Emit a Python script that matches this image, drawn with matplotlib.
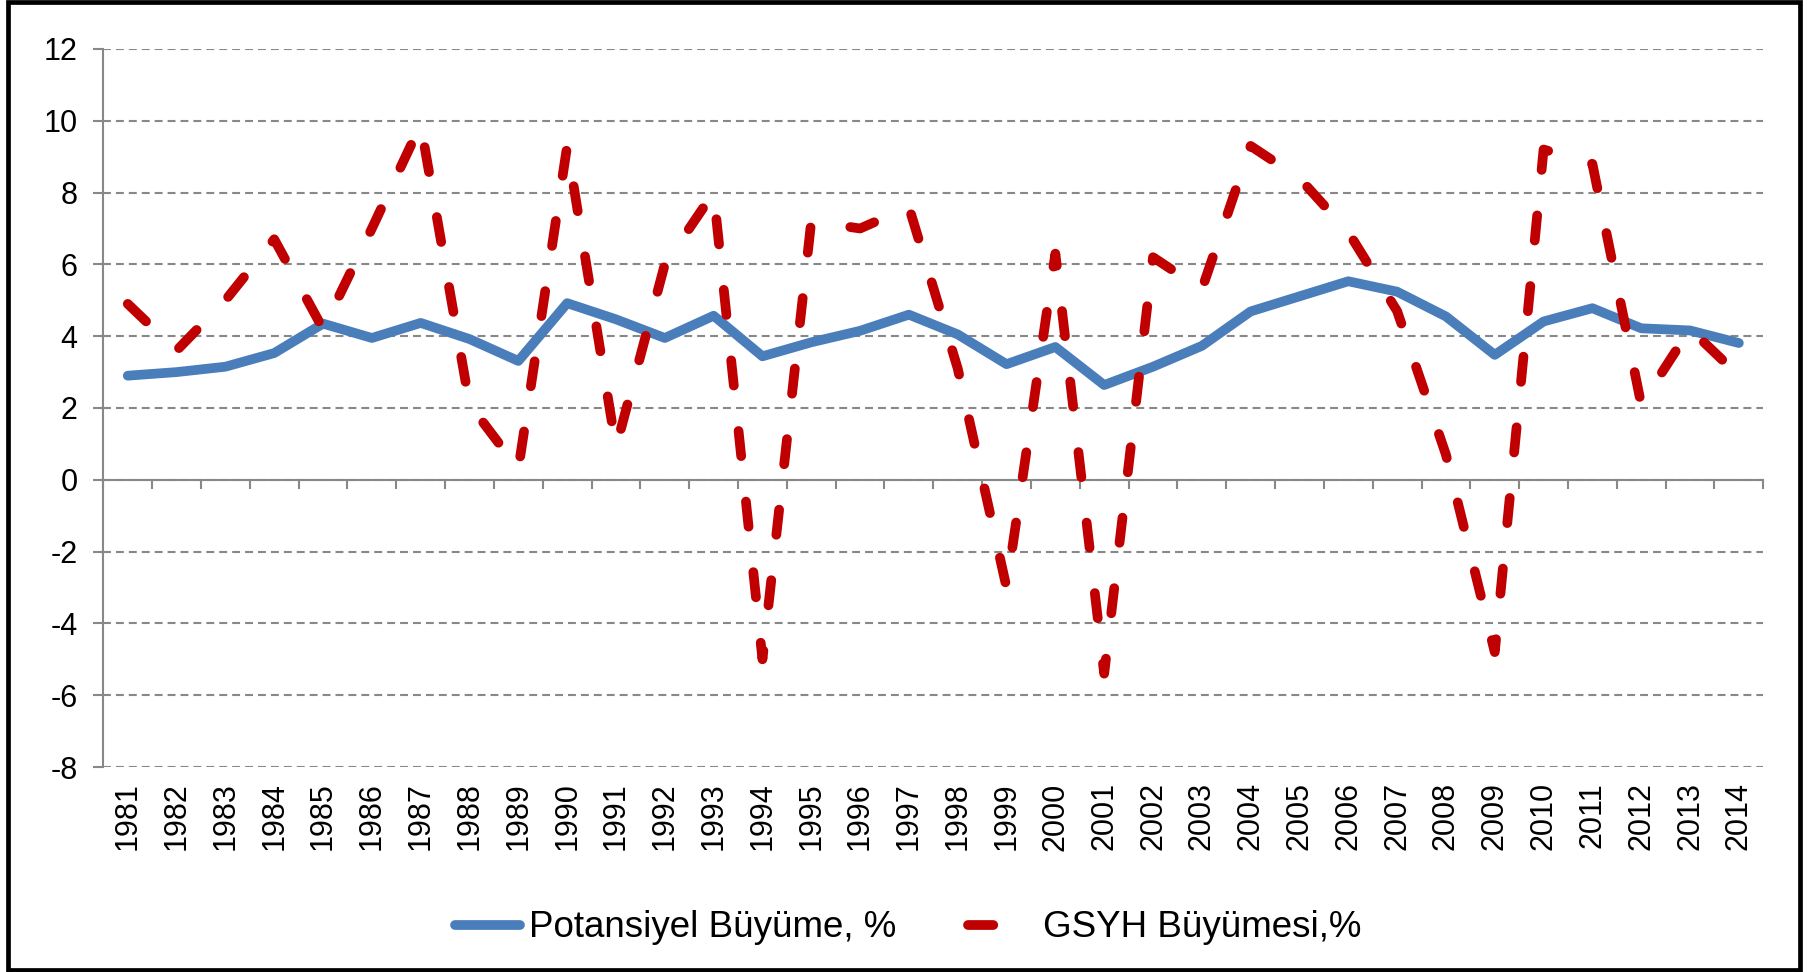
import numpy as np
import matplotlib
matplotlib.use('Agg')
import matplotlib.pyplot as plt
from matplotlib.lines import Line2D
from matplotlib.patches import Rectangle

# data
years = ['1981', '1982', '1983', '1984', '1985', '1986', '1987', '1988', '1989', '1990',
         '1991', '1992', '1993', '1994', '1995', '1996', '1997', '1998', '1999', '2000',
         '2001', '2002', '2003', '2004', '2005', '2006', '2007', '2008', '2009', '2010',
         '2011', '2012', '2013', '2014']
potansiyel = [2.9, 3.0, 3.15, 3.53, 4.35, 3.95, 4.37, 3.92, 3.31, 4.92,
              4.47, 3.95, 4.57, 3.44, 3.83, 4.15, 4.6, 4.05, 3.22, 3.7,
              2.64, 3.15, 3.73, 4.69, 5.11, 5.53, 5.24, 4.55, 3.48, 4.41,
              4.78, 4.22, 4.16, 3.81]
gsyh = [4.9, 3.6, 5.0, 6.7, 4.2, 7.0, 9.9, 2.1, 0.3, 9.3,
        0.9, 6.0, 8.0, -5.0, 7.2, 7.0, 7.6, 3.1, -3.0, 6.3,
        -5.4, 6.2, 5.3, 9.3, 8.4, 6.9, 4.7, 0.7, -4.8, 9.2,
        8.8, 2.1, 4.2, 2.9]
yticks = [-8, -6, -4, -2, 0, 2, 4, 6, 8, 10, 12]
labels = ['Potansiyel Büyüme, %', 'GSYH Büyümesi,%']

plt.rcParams['font.family'] = ['Liberation Sans', 'DejaVu Sans']

blue = '#4A7EBB'
red = '#C00000'
gray = '#888888'

fig = plt.figure(figsize=(18.07, 9.72), dpi=100)
ax = fig.add_axes([0.0572, 0.2109, 0.9186, 0.7387])

x = np.arange(len(years))
ax.plot(x, potansiyel, color=blue, lw=7, solid_capstyle='round',
        solid_joinstyle='round', zorder=3)
ax.plot(x, gsyh, color=red, lw=7, linestyle=(0, (2.6, 4.7)),
        dash_capstyle='round', dash_joinstyle='round', zorder=4)

ax.set_xlim(-0.5, len(years) - 0.5)
ax.set_ylim(-8, 12)
ax.set_yticks(yticks)
ax.set_yticklabels([str(v) for v in yticks], fontsize=22)
ax.yaxis.grid(True, color=gray, linestyle=(0, (3.8, 2.4)), lw=1.5)
ax.set_axisbelow(True)
ax.tick_params(axis='y', length=7.2, width=1.5, color=gray, pad=11.5)

# axis line at zero with ticks between categories
ax.spines['bottom'].set_position(('data', 0))
ax.spines['bottom'].set_color(gray)
ax.spines['bottom'].set_linewidth(1.5)
ax.spines['left'].set_color(gray)
ax.spines['left'].set_linewidth(1.5)
ax.spines['top'].set_visible(False)
ax.spines['right'].set_visible(False)
ax.set_xticks(np.arange(-0.5, len(years), 1))
ax.tick_params(axis='x', length=6.5, width=1.5, color=gray, labelbottom=False)

# year labels at the bottom of the plot area
sec = ax.secondary_xaxis('bottom')
sec.set_xticks(x)
sec.set_xticklabels(years, rotation=90, fontsize=22)
sec.tick_params(length=0, pad=11)
sec.spines['bottom'].set_visible(False)

h1 = Line2D([], [], color=blue, lw=7, solid_capstyle='round')
h2 = Line2D([], [], color=red, lw=7, linestyle=(0, (2.6, 12)), dash_capstyle='round')
fig.legend([h1, h2], labels, loc='center', bbox_to_anchor=(0.5025, 0.0453),
           ncol=2, frameon=False, fontsize=26.5, handlelength=1.78,
           handletextpad=0.25, columnspacing=1.95)

# outer black frame
fig.add_artist(Rectangle((7.5 / 1807, 2 / 972), 1792.5 / 1807, 968 / 972,
                         transform=fig.transFigure, fill=False,
                         edgecolor='black', lw=3.4))

fig.savefig('out.png', dpi=100)
